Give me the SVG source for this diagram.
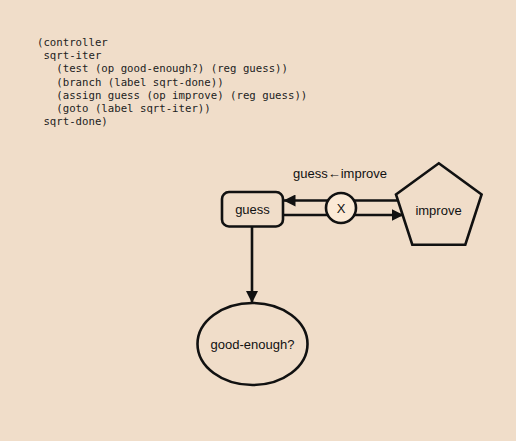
<svg xmlns="http://www.w3.org/2000/svg" width="516" height="441" viewBox="0 0 516 441">
  <style>
    .code { font-family: "DejaVu Sans Mono", "Liberation Mono", monospace; font-size: 10.7px; fill: #222; white-space: pre; }
    .lbl { font-family: "Liberation Sans", Arial, sans-serif; font-size: 13px; fill: #111; }
    .shape { fill: #F0DDC9; stroke: #111; stroke-width: 2.6; }
    .wire { stroke: #111; stroke-width: 2.6; fill: none; }
  </style>
  <defs>
    <marker id="arr" viewBox="0 0 12 12" refX="12" refY="6" markerWidth="12" markerHeight="12" markerUnits="userSpaceOnUse" orient="auto">
      <path d="M0,0 L12,6 L0,12 Z" fill="#111"/>
    </marker>
  </defs>
  <rect width="516" height="441" fill="#F0DDC9"/>

  <g id="code">
    <text class="code" x="37" y="46">(controller</text>
    <text class="code" x="37" y="59.2"> sqrt-iter</text>
    <text class="code" x="37" y="72.4">   (test (op good-enough?) (reg guess))</text>
    <text class="code" x="37" y="85.6">   (branch (label sqrt-done))</text>
    <text class="code" x="37" y="98.8">   (assign guess (op improve) (reg guess))</text>
    <text class="code" x="37" y="112">   (goto (label sqrt-iter))</text>
    <text class="code" x="37" y="125.2"> sqrt-done)</text>
  </g>

  <g id="connectors">
    <line class="wire" x1="398" y1="200.5" x2="283.5" y2="200.5" marker-end="url(#arr)"/>
    <line class="wire" x1="283" y1="215" x2="403.5" y2="215" marker-end="url(#arr)"/>
    <line class="wire" x1="252" y1="227" x2="252" y2="303" marker-end="url(#arr)"/>
    <text class="lbl" x="340" y="178" text-anchor="middle">guess←improve</text>
  </g>

  <g id="guess">
    <rect class="shape" x="222" y="192" width="61" height="34.5" rx="7"/>
    <text class="lbl" x="252.5" y="214" text-anchor="middle">guess</text>
  </g>

  <g id="improve">
    <polygon class="shape" points="438.8,163.3 481.6,194.4 465.3,244.7 412.3,244.7 396,194.4"/>
    <text class="lbl" x="438.5" y="214.5" text-anchor="middle">improve</text>
  </g>

  <g id="x-button">
    <circle cx="341" cy="208" r="15" fill="#FBEAD6" stroke="#111" stroke-width="2.6"/>
    <text class="lbl" x="341" y="212.5" text-anchor="middle">X</text>
  </g>

  <g id="good-enough">
    <ellipse class="shape" cx="252.5" cy="344" rx="55" ry="41"/>
    <text class="lbl" x="252.5" y="348.5" text-anchor="middle">good-enough?</text>
  </g>
</svg>
